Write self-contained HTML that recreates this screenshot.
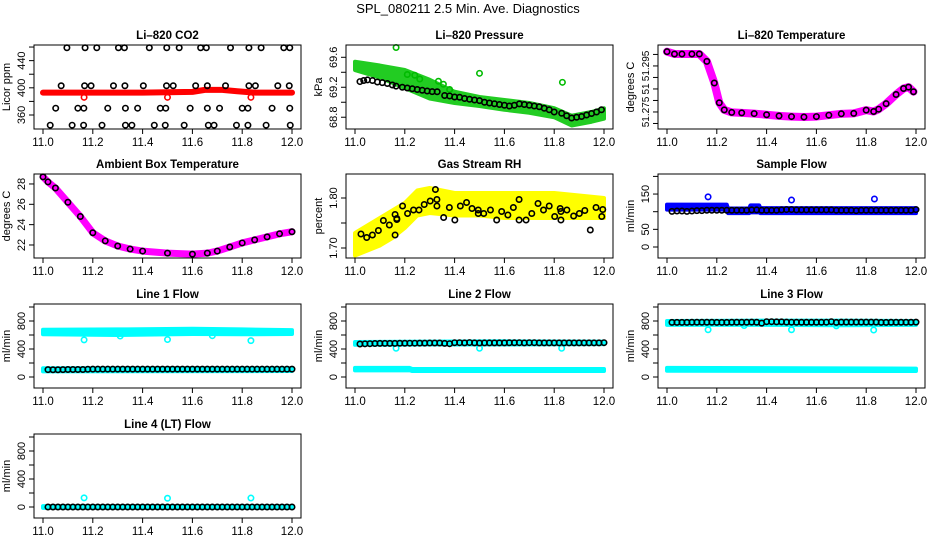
<!DOCTYPE html>
<html><head><meta charset="utf-8"><style>
html,body{margin:0;padding:0;background:#fff;}
svg{display:block;font-family:"Liberation Sans",Arial,sans-serif;}
</style></head><body>
<svg id="chart" width="936" height="540" viewBox="0 0 936 540">
<text x="468" y="13" text-anchor="middle" font-size="13">SPL_080211  2.5 Min. Ave. Diagnostics</text>
</svg>
<script>
// ---- data ----
const xTicks = [11.0, 11.2, 11.4, 11.6, 11.8, 12.0];
const xTickLabels = ["11.0", "11.2", "11.4", "11.6", "11.8", "12.0"];

// CO2
const co2BandX = [11.0, 11.2, 11.4, 11.6, 11.65, 11.72, 11.78, 11.85, 12.0];
const co2BandY = [393, 393, 393, 394, 397, 397, 395, 393, 393];
const co2RedOutX = [11.165, 11.5, 11.835];
const co2RedOutY = [386, 386, 386];
const co2BlackX = [11.096,11.169,11.216,11.303,11.327,11.427,11.497,11.547,11.633,11.656,11.753,11.827,11.876,11.967,11.991,
 11.073,11.167,11.193,11.283,11.329,11.403,11.496,11.523,11.613,11.66,11.733,11.827,11.853,11.943,11.989,
 11.051,11.14,11.164,11.26,11.331,11.38,11.471,11.493,11.591,11.66,11.709,11.8,11.823,11.92,11.991,
 11.029,11.117,11.163,11.237,11.331,11.357,11.447,11.491,11.567,11.664,11.687,11.777,11.823,11.896,11.993];
const co2BlackY = [459,459,459,459,459,459,459,459,459,459,459,459,459,459,459,
 403,403,403,403,403,403,403,403,403,403,403,403,403,403,403,
 370,370,370,370,370,370,370,370,370,370,370,370,370,370,370,
 345,345,345,345,345,345,345,345,345,345,345,345,345,345,345];

// Pressure
const presBandX = [11.0, 11.1, 11.2, 11.3, 11.4, 11.5, 11.6, 11.7, 11.8, 11.87, 11.95, 12.0];
const presBandHi = [69.54, 69.49, 69.43, 69.3, 69.14, 69.07, 69.03, 68.99, 68.92, 68.82, 68.87, 68.92];
const presBandLo = [69.43, 69.33, 69.19, 69.05, 68.99, 68.95, 68.9, 68.86, 68.8, 68.69, 68.74, 68.78];
const presGreenOutX = [11.165, 11.5, 11.833, 11.335, 11.355, 11.21, 11.24, 11.26, 11.38];
const presGreenOutY = [69.73, 69.386, 69.266, 69.28, 69.24, 69.37, 69.36, 69.31, 69.17];
const presBlackX = [11.02,11.035,11.05,11.07,11.09,11.11,11.13,11.15,11.165,11.19,11.21,11.23,11.25,11.27,11.29,11.31,11.33,11.36,11.38,11.4,11.42,11.44,11.46,11.48,11.5,11.52,11.54,11.56,11.58,11.6,11.62,11.64,11.66,11.68,11.7,11.72,11.74,11.76,11.78,11.8,11.83,11.85,11.87,11.89,11.91,11.93,11.95,11.97,11.99];
const presBlackY = [69.276,69.29,69.298,69.29,69.27,69.262,69.25,69.23,69.215,69.2,69.19,69.18,69.17,69.16,69.15,69.142,69.14,69.09,69.084,69.07,69.067,69.05,69.04,69.03,69.022,69.0,68.99,68.98,68.97,68.96,68.95,68.96,68.978,68.97,68.96,68.95,68.94,68.92,68.9,68.87,68.853,68.82,68.79,68.8,68.81,68.83,68.85,68.87,68.9];

// Li-820 temperature
const tempX = [11.0, 11.03, 11.06, 11.1, 11.13, 11.16, 11.19, 11.21, 11.23, 11.26, 11.3, 11.35, 11.4, 11.45, 11.5, 11.55, 11.6, 11.65, 11.7, 11.75, 11.8, 11.83, 11.85, 11.88, 11.92, 11.95, 11.97, 11.99];
const tempY = [51.3012, 51.3002, 51.3002, 51.3002, 51.3002, 51.297, 51.2876, 51.279, 51.2759, 51.2748, 51.2746, 51.2743, 51.2738, 51.2733, 51.273, 51.2728, 51.273, 51.2736, 51.2742, 51.2744, 51.2758, 51.2752, 51.2762, 51.2786, 51.2826, 51.2852, 51.2858, 51.2838];

// Ambient box temperature
const ambX = [11.0, 11.02, 11.05, 11.1, 11.15, 11.2, 11.25, 11.3, 11.35, 11.4, 11.5, 11.6, 11.66, 11.7, 11.75, 11.8, 11.85, 11.9, 11.95, 12.0];
const ambY = [28.7, 28.2, 27.6, 26.2, 24.8, 23.2, 22.4, 21.9, 21.6, 21.4, 21.2, 21.1, 21.2, 21.4, 21.8, 22.2, 22.5, 22.8, 23.1, 23.3];

// Gas stream RH
const rhBandX = [11.0, 11.05, 11.1, 11.15, 11.2, 11.25, 11.3, 11.4, 11.5, 11.6, 11.7, 11.8, 11.9, 12.0];
const rhBandHi = [1.73, 1.745, 1.76, 1.775, 1.79, 1.815, 1.82, 1.81, 1.81, 1.81, 1.81, 1.81, 1.805, 1.80];
const rhBandLo = [1.685, 1.695, 1.705, 1.72, 1.74, 1.765, 1.77, 1.765, 1.765, 1.76, 1.76, 1.76, 1.76, 1.76];
const rhBlackX = [11.024,11.047,11.07,11.094,11.114,11.138,11.161,11.161,11.168,11.168,11.191,11.211,11.235,11.257,11.278,11.302,11.323,11.329,11.329,11.356,11.379,11.401,11.423,11.448,11.47,11.495,11.495,11.517,11.544,11.569,11.589,11.614,11.636,11.659,11.659,11.687,11.71,11.735,11.757,11.78,11.802,11.824,11.827,11.827,11.851,11.878,11.901,11.923,11.945,11.968,11.991,11.995];
const rhBlackY = [1.728,1.721,1.726,1.735,1.755,1.746,1.767,1.726,1.759,1.757,1.784,1.769,1.776,1.776,1.787,1.794,1.817,1.797,1.784,1.761,1.781,1.756,1.784,1.791,1.779,1.776,1.769,1.769,1.776,1.756,1.773,1.766,1.781,1.797,1.756,1.756,1.769,1.789,1.776,1.784,1.763,1.779,1.773,1.756,1.776,1.764,1.769,1.775,1.736,1.781,1.763,1.777];

// Flows
const flowBlackX = [11.02,11.04,11.06,11.08,11.1,11.12,11.14,11.16,11.18,11.2,11.22,11.24,11.26,11.28,11.3,11.32,11.34,11.36,11.38,11.4,11.42,11.44,11.46,11.48,11.5,11.52,11.54,11.56,11.58,11.6,11.62,11.64,11.66,11.68,11.7,11.72,11.74,11.76,11.78,11.8,11.82,11.84,11.86,11.88,11.9,11.92,11.94,11.96,11.98,12.0];
const sampleBlackY = [101,102,102,101,102,103,103,104,104,104,104,104,104,104,104,104,105,105,104,104,104,104,105,106,106,105,105,105,105,105,105,105,105,104,104,104,104,103,104,104,104,104,104,104,104,104,104,104,104,106];
const line1BlackY = [105,104,104,106,107,107,107,107,110,112,112,112,112,112,112,113,113,113,112,112,112,112,113,113,113,113,113,113,113,113,113,113,113,113,112,112,112,112,112,112,112,112,112,112,112,112,112,112,112,113];
const line2BlackY = [472,474,476,478,480,480,480,481,482,482,483,483,484,484,485,486,486,480,476,490,490,488,492,488,486,487,487,488,488,488,489,489,490,487,490,490,488,488,488,488,488,488,488,488,488,488,488,488,488,490];
const line3BlackY = [780,780,780,781,782,782,782,782,782,780,780,781,782,782,782,782,784,782,770,790,790,788,788,784,783,782,782,782,782,782,782,783,790,780,784,784,784,784,784,784,784,784,780,780,782,782,782,782,782,784];
const line4BlackY = [0,0,0,0,0,0,0,0,0,0,0,0,0,0,0,0,0,0,0,0,0,0,0,0,0,0,0,0,0,0,0,0,0,0,0,0,0,0,0,0,0,0,0,0,0,0,0,0,0,0];

const sampleBandX = [11.0, 11.24, 11.245, 11.33, 11.335, 11.37, 11.375, 12.0];
const sampleBandHi = [120, 120, 109, 109, 118, 118, 110, 110];
const sampleBandLo = [106, 106, 96, 96, 98, 98, 96, 96];
const sampleOutX = [11.165, 11.5, 11.833];
const sampleOutY = [142, 133, 136];

const line1HiBandX = [11.0, 11.3, 11.6, 11.8, 12.0];
const line1HiBandHi = [675, 680, 690, 680, 670];
const line1HiBandLo = [610, 600, 615, 610, 615];
const line1OutX = [11.165, 11.31, 11.5, 11.68, 11.835];
const line1OutY = [530, 585, 535, 590, 520];
const line1LoBandX = [11.0, 12.0];
const line1LoBandHi = [125, 125];
const line1LoBandLo = [80, 85];

const line2HiBandX = [11.0, 11.3, 11.6, 12.0];
const line2HiBandHi = [500, 505, 510, 505];
const line2HiBandLo = [460, 465, 465, 470];
const line2LoBandX = [11.0, 11.22, 11.23, 12.0];
const line2LoBandHi = [130, 130, 115, 115];
const line2LoBandLo = [95, 95, 85, 85];
const line2OutX = [11.165, 11.5, 11.83];
const line2OutY = [410, 410, 410];

const line3HiBandX = [11.0, 11.4, 11.7, 12.0];
const line3HiBandHi = [800, 805, 805, 800];
const line3HiBandLo = [745, 745, 740, 745];
const line3LoBandX = [11.0, 12.0];
const line3LoBandHi = [130, 120];
const line3LoBandLo = [90, 85];
const line3OutX = [11.165, 11.5, 11.83, 11.31, 11.68];
const line3OutY = [675, 675, 671, 735, 730];

const line4BandX = [11.0, 12.0];
const line4BandHi = [12, 12];
const line4BandLo = [-12, -12];
const line4OutX = [11.165, 11.5, 11.835];
const line4OutY = [130, 125, 128];

// ---- drawing ----
const NS = "http://www.w3.org/2000/svg";
const svg = document.getElementById("chart");
const colLeft = [34, 346, 658];
const rowTop = [45, 174, 304, 434];
const W = 267, H = 84;

function mk(tag, attrs, parent) {
  const e = document.createElementNS(NS, tag);
  for (const k in attrs) e.setAttribute(k, attrs[k]);
  (parent || svg).appendChild(e);
  return e;
}
function makePanel(col, row, ymin, ymax) {
  const L = colLeft[col], T = rowTop[row];
  const g = mk("g", {});
  return {
    g, L, T,
    sx: v => L + 9 + (v - 11) * 249,
    sy: v => T + H - (v - ymin) / (ymax - ymin) * H
  };
}
function frame(p, name, title, ylab, yTicks, yLabels, lblSize) {
  const box = mk("rect", {x: p.L, y: p.T, width: W, height: H, fill: "none", stroke: "#000", "stroke-width": 1}, p.g);
  
  
  const t = mk("text", {x: p.L + W / 2, y: p.T - 6, "text-anchor": "middle", "font-size": 11.5, "font-weight": "bold"}, p.g);
  t.textContent = title;
  
  
  const yl = mk("text", {x: 0, y: 0, "text-anchor": "middle", "font-size": 11, transform: "translate(" + (p.L - 24) + "," + (p.T + H / 2) + ") rotate(-90)"}, p.g);
  yl.textContent = ylab;
  
  
  xTicks.forEach((v, i) => {
    const x = p.sx(v);
    const tk = mk("line", {x1: x, x2: x, y1: p.T + H, y2: p.T + H + 5, stroke: "#000"}, p.g);
    
    
    const lb = mk("text", {x: x, y: p.T + H + 17, "text-anchor": "middle", "font-size": 11.5}, p.g);
    lb.textContent = xTickLabels[i];
    
    
  });
  yTicks.forEach((v, i) => {
    const y = p.sy(v);
    const tk = mk("line", {x1: p.L - 5, x2: p.L, y1: y, y2: y, stroke: "#000"}, p.g);
    
    
    if (yLabels[i]) {
      const lb = mk("text", {x: 0, y: 0, "text-anchor": "middle", "font-size": lblSize || 11, transform: "translate(" + (p.L - 9) + "," + y + ") rotate(-90)"}, p.g);
      lb.textContent = yLabels[i];
      
      
    }
  });
}
function pts(p, xs, ys, color, name) {
  xs.forEach((x, i) => {
    const c = mk("circle", {cx: p.sx(x), cy: p.sy(ys[i]), r: 2.7, fill: "none", stroke: color, "stroke-width": 1.6}, p.g);
    
    
  });
}
function band(p, xs, hi, lo, color, name) {
  let d = xs.map((x, i) => (i ? "L" : "M") + p.sx(x) + "," + p.sy(hi[i])).join("");
  for (let i = xs.length - 1; i >= 0; i--) d += "L" + p.sx(xs[i]) + "," + p.sy(lo[i]);
  const e = mk("path", {d: d + "Z", fill: color, stroke: color, "stroke-width": 4, "stroke-linejoin": "round"}, p.g);
  
  
}
function thick(p, xs, ys, color, w, name) {
  const d = xs.map((x, i) => (i ? "L" : "M") + p.sx(x) + "," + p.sy(ys[i])).join("");
  const e = mk("path", {d: d, fill: "none", stroke: color, "stroke-width": w, "stroke-linejoin": "round", "stroke-linecap": "round"}, p.g);
  
  
}
const flowTicks = [0, 200, 400, 600, 800, 1000];
const flowLabels = ["0", "", "400", "", "800", ""];
const CY = "#00ffff";

// Panel 1: CO2
let p = makePanel(0, 0, 339.4, 463);
thick(p, co2BandX, co2BandY, "#ff0000", 6, "co2-red-series");
pts(p, co2RedOutX, co2RedOutY, "#ff0000", "co2-red-outlier");
pts(p, co2BlackX, co2BlackY, "#000", "co2-black-point");
frame(p, "co2", "Li\u2013820 CO2", "Licor ppm", [360, 380, 400, 420, 440, 460], ["360", "", "400", "", "440", ""]);

// Panel 2: Pressure
p = makePanel(1, 0, 68.643, 69.764);
band(p, presBandX, presBandHi, presBandLo, "#22cc22", "pressure-green-series");
pts(p, presGreenOutX, presGreenOutY, "#00bb00", "pressure-green-outlier");
pts(p, presBlackX, presBlackY, "#000", "pressure-black-point");
frame(p, "pressure", "Li\u2013820 Pressure", "kPa", [68.8, 69.0, 69.2, 69.4, 69.6], ["68.8", "", "69.2", "", "69.6"]);

// Panel 3: Li-820 temperature
p = makePanel(2, 0, 51.2676, 51.3041);
thick(p, tempX, tempY, "#ff00ff", 8, "li820-temp-magenta-series");
pts(p, tempX, tempY, "#000", "li820-temp-black-point");
frame(p, "li820-temp", "Li\u2013820 Temperature", "degrees C", [51.27, 51.275, 51.28, 51.285, 51.29, 51.295, 51.3], ["", "51.275", "", "51", "", "51.295", ""], 10);

// Panel 4: Ambient
p = makePanel(0, 1, 20.72, 28.98);
thick(p, ambX, ambY, "#ff00ff", 7, "ambient-magenta-series");
pts(p, ambX, ambY, "#000", "ambient-black-point");
frame(p, "ambient-temp", "Ambient Box Temperature", "degrees C", [22, 24, 26, 28], ["22", "24", "26", "28"]);

// Panel 5: RH
p = makePanel(1, 1, 1.68, 1.848);
band(p, rhBandX, rhBandHi, rhBandLo, "#ffff00", "rh-yellow-series");
pts(p, rhBlackX, rhBlackY, "#000", "rh-black-point");
frame(p, "gas-rh", "Gas Stream RH", "percent", [1.70, 1.75, 1.80], ["1.70", "", "1.80"]);

// Panel 6: Sample flow
p = makePanel(2, 1, -31.2, 206.8);
band(p, sampleBandX, sampleBandHi, sampleBandLo, "#0000ff", "sample-flow-blue-series");
pts(p, sampleOutX, sampleOutY, "#0000ff", "sample-flow-blue-outlier");
pts(p, flowBlackX, sampleBlackY, "#000", "sample-flow-black-point");
frame(p, "sample-flow", "Sample Flow", "ml/min", [0, 50, 100, 150, 200], ["0", "50", "", "150", ""]);

// Panel 7: Line 1
p = makePanel(0, 2, -157, 1043);
band(p, line1HiBandX, line1HiBandHi, line1HiBandLo, CY, "line1-cyan-high-series");
band(p, line1LoBandX, line1LoBandHi, line1LoBandLo, CY, "line1-cyan-low-series");
pts(p, line1OutX, line1OutY, CY, "line1-cyan-outlier");
pts(p, flowBlackX, line1BlackY, "#000", "line1-black-point");
frame(p, "line1-flow", "Line 1 Flow", "ml/min", flowTicks, flowLabels);

// Panel 8: Line 2
p = makePanel(1, 2, -157, 1043);
band(p, line2HiBandX, line2HiBandHi, line2HiBandLo, CY, "line2-cyan-high-series");
band(p, line2LoBandX, line2LoBandHi, line2LoBandLo, CY, "line2-cyan-low-series");
pts(p, line2OutX, line2OutY, CY, "line2-cyan-outlier");
pts(p, flowBlackX, line2BlackY, "#000", "line2-black-point");
frame(p, "line2-flow", "Line 2 Flow", "ml/min", flowTicks, flowLabels);

// Panel 9: Line 3
p = makePanel(2, 2, -157, 1043);
band(p, line3HiBandX, line3HiBandHi, line3HiBandLo, CY, "line3-cyan-high-series");
band(p, line3LoBandX, line3LoBandHi, line3LoBandLo, CY, "line3-cyan-low-series");
pts(p, line3OutX, line3OutY, CY, "line3-cyan-outlier");
pts(p, flowBlackX, line3BlackY, "#000", "line3-black-point");
frame(p, "line3-flow", "Line 3 Flow", "ml/min", flowTicks, flowLabels);

// Panel 10: Line 4
p = makePanel(0, 3, -157, 1043);
band(p, line4BandX, line4BandHi, line4BandLo, CY, "line4-cyan-series");
pts(p, line4OutX, line4OutY, CY, "line4-cyan-outlier");
pts(p, flowBlackX, line4BlackY, "#000", "line4-black-point");
frame(p, "line4-flow", "Line 4 (LT) Flow", "ml/min", flowTicks, flowLabels);
</script>
</body></html>
